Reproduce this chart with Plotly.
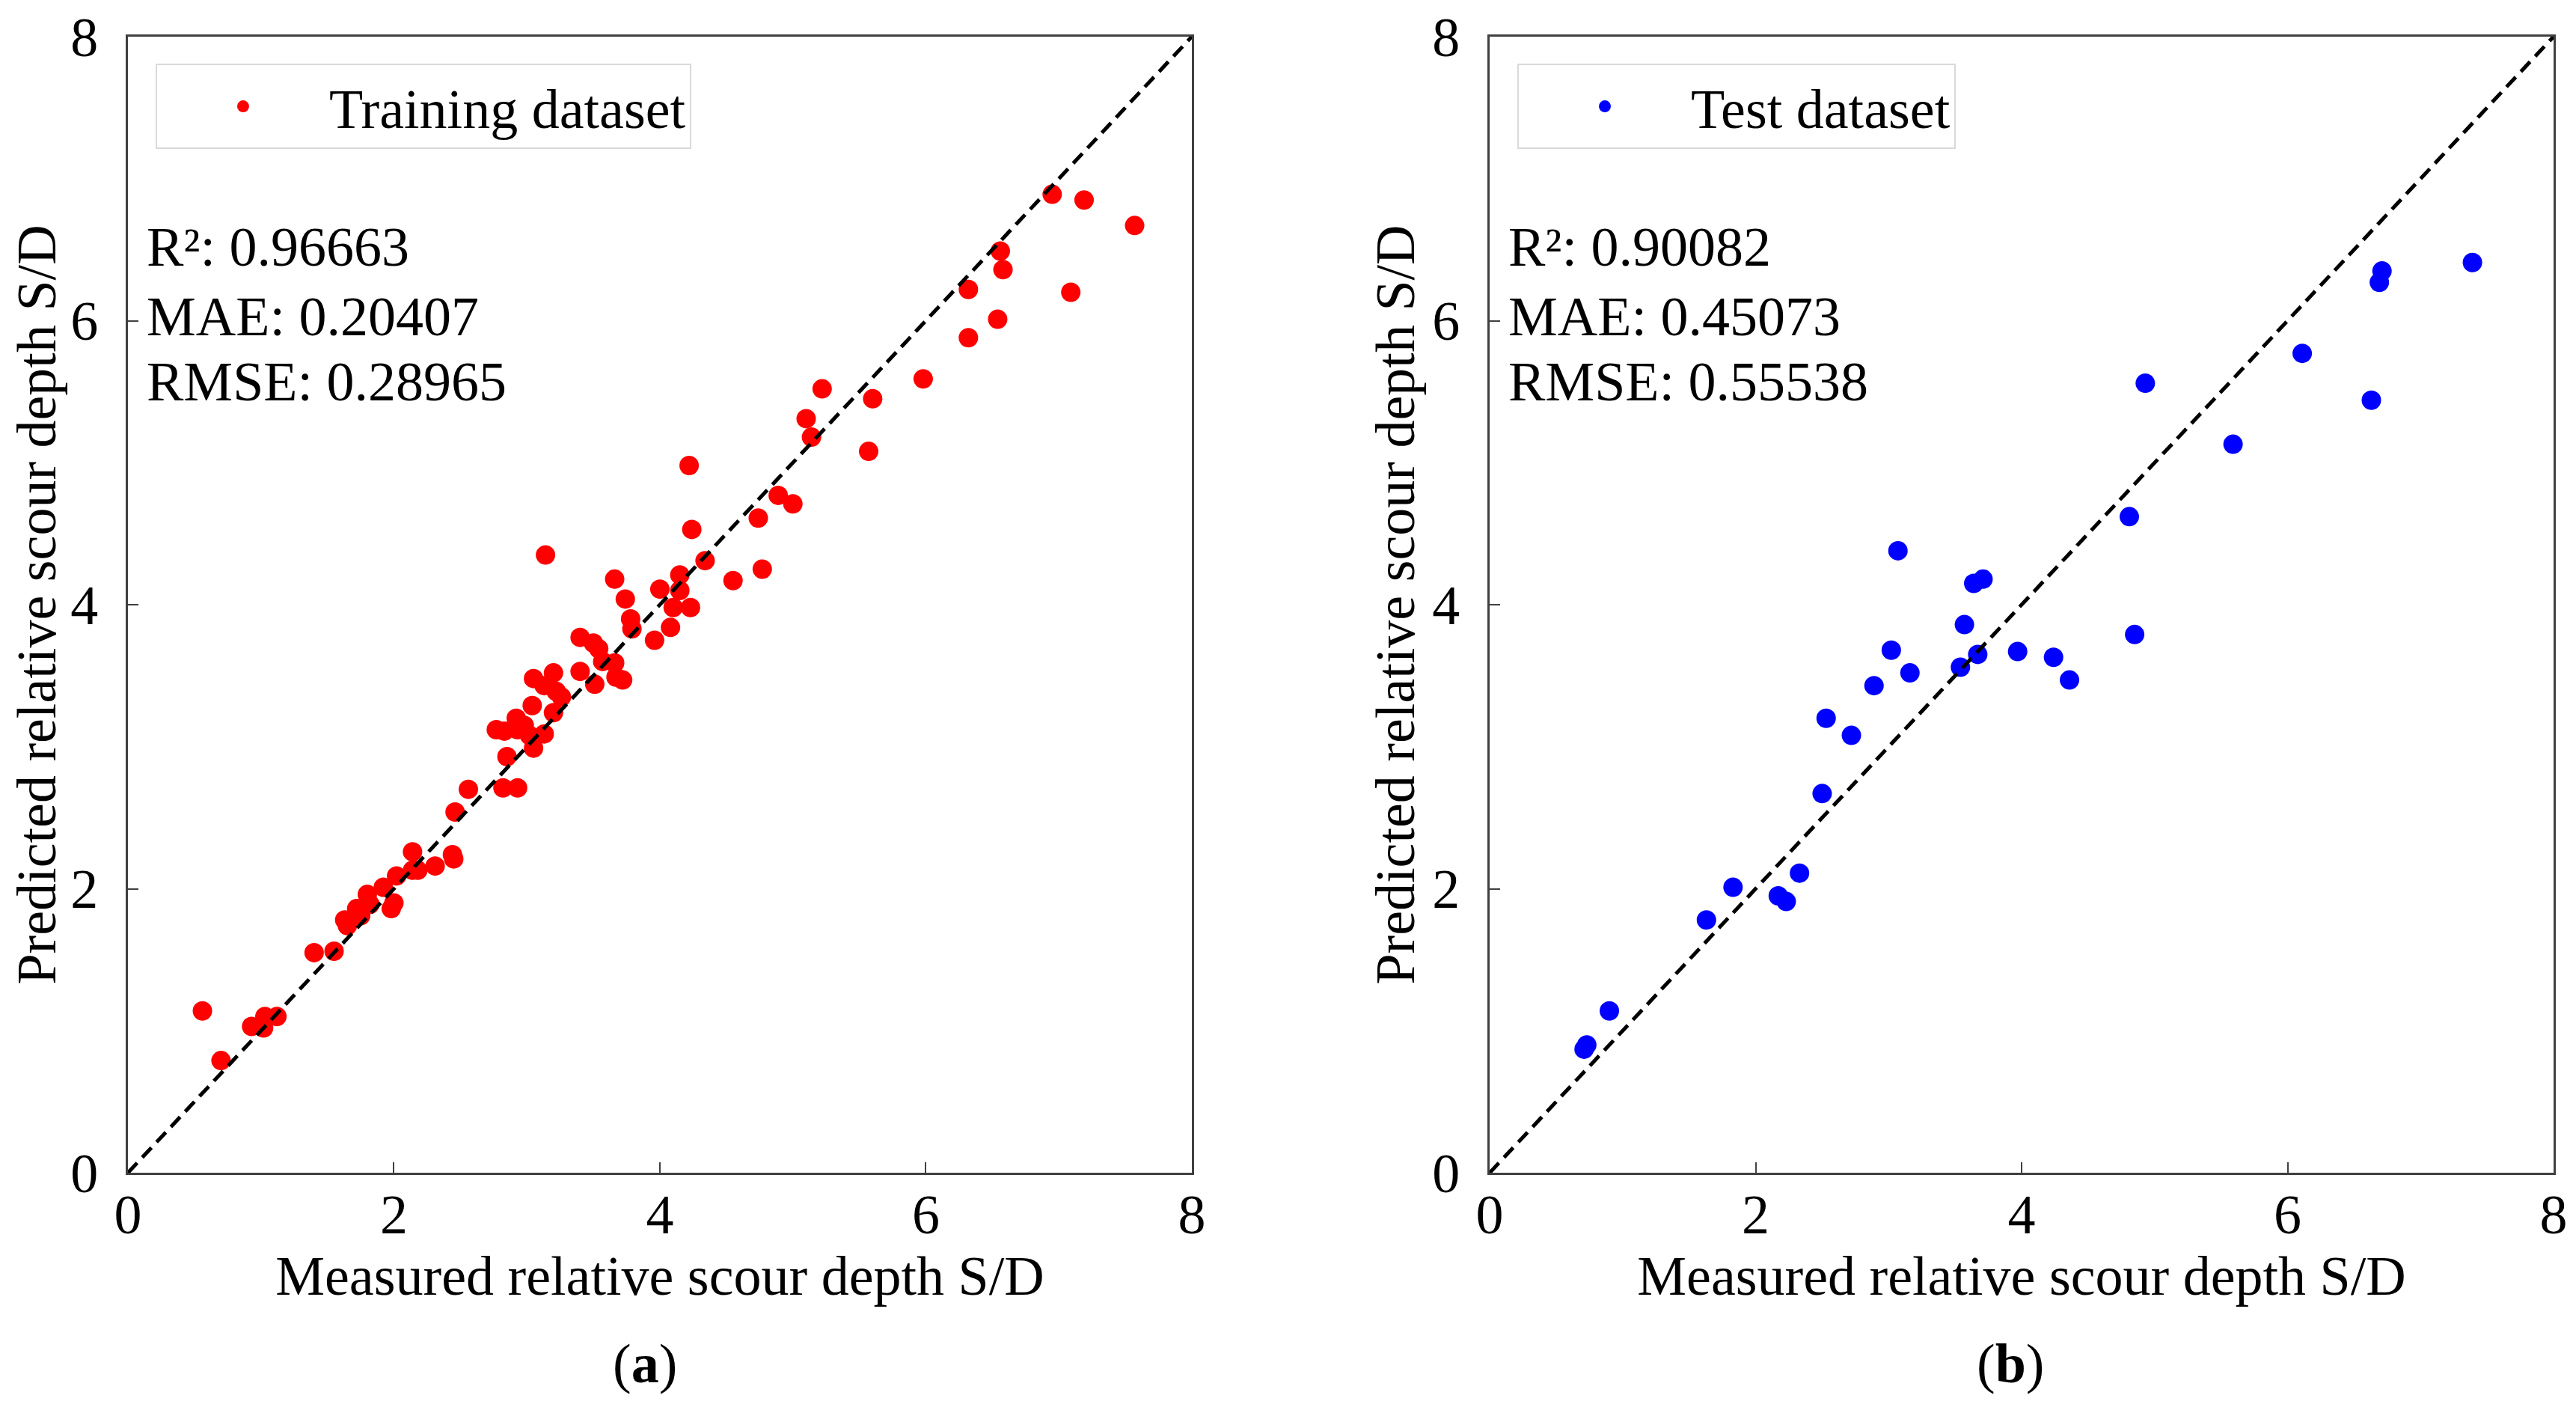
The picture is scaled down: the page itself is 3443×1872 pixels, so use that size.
import plotly.graph_objects as go
from plotly.subplots import make_subplots

# training set: measured vs predicted S/D
train_measured = [0.56, 0.70, 0.93, 1.02, 1.03, 1.12, 1.40, 1.55, 1.63, 1.65, 1.72, 1.75, 1.80, 1.82, 1.92,
                  1.98, 2.00, 2.02, 2.14, 2.14, 2.18, 2.31, 2.44, 2.45, 2.46, 2.56, 2.82, 2.93, 2.77, 2.83,
                  2.85, 2.92, 2.93, 2.98, 3.02, 3.04, 3.05, 3.05, 3.13, 3.14, 3.13, 3.20, 3.20, 3.22, 3.26,
                  3.40, 3.40, 3.50, 3.51, 3.54, 3.57, 3.66, 3.66, 3.67, 3.72, 3.74, 3.78, 3.79, 3.96, 4.00,
                  4.08, 4.10, 4.15, 4.15, 4.23, 4.24, 4.34, 4.55, 4.77, 4.74, 4.89, 5.00, 4.22, 5.10, 5.14,
                  5.57, 5.22, 5.60, 5.98, 6.32, 6.54, 6.32, 7.09, 6.58, 6.56, 6.95, 7.19, 7.57]
train_predicted = [1.14, 0.79, 1.03, 1.02, 1.10, 1.10, 1.55, 1.56, 1.78, 1.74, 1.86, 1.81, 1.96, 1.89, 2.01,
                   1.86, 1.90, 2.09, 2.26, 2.13, 2.13, 2.16, 2.24, 2.21, 2.54, 2.70, 2.71, 2.71, 3.12, 3.11,
                   2.93, 3.20, 3.12, 3.15, 3.08, 3.29, 3.48, 2.99, 3.09, 4.35, 3.43, 3.52, 3.24, 3.39, 3.35,
                   3.77, 3.53, 3.73, 3.44, 3.69, 3.60, 3.59, 4.18, 3.49, 3.47, 4.04, 3.90, 3.83, 3.75, 4.11,
                   3.84, 3.98, 4.10, 4.21, 3.98, 4.53, 4.31, 4.17, 4.25, 4.61, 4.77, 4.71, 4.98, 5.31, 5.18,
                   5.08, 5.52, 5.45, 5.59, 5.88, 6.01, 6.22, 6.20, 6.36, 6.49, 6.89, 6.85, 6.67]

# test set
test_measured = [0.71, 0.73, 0.90, 1.63, 1.83, 2.17, 2.23, 2.33, 2.50, 2.53, 2.72, 2.89, 3.02, 3.07, 3.16,
                 3.54, 3.57, 3.64, 3.71, 3.67, 3.97, 4.24, 4.36, 4.85, 4.81, 4.93, 5.59, 6.11, 6.63, 6.69,
                 6.71, 7.39]
test_predicted = [0.87, 0.90, 1.14, 1.78, 2.01, 1.95, 1.91, 2.11, 2.67, 3.20, 3.08, 3.43, 3.68, 4.38, 3.52,
                  3.56, 3.86, 4.15, 4.18, 3.65, 3.67, 3.63, 3.47, 3.79, 4.62, 5.56, 5.13, 5.77, 5.44, 6.27,
                  6.35, 6.41]

train_metrics = ["R²: 0.96663", "MAE: 0.20407", "RMSE: 0.28965"]
test_metrics = ["R²: 0.90082", "MAE: 0.45073", "RMSE: 0.55538"]

axis_ticks = [0, 2, 4, 6, 8]
diag = [0, 8]

FONT = "Liberation Serif, Times New Roman, serif"
FSIZE = 74
AXIS_COLOR = "#404040"

fig = make_subplots(rows=1, cols=2, horizontal_spacing=0.1228)


def add_panel(col, xs, ys, name, color, metrics, legend_id):
    fig.add_trace(
        go.Scatter(
            x=xs,
            y=ys,
            mode="markers",
            name=name,
            marker=dict(color=color, size=26, line=dict(width=0)),
            legend=legend_id,
        ),
        row=1,
        col=col,
    )
    fig.add_trace(
        go.Scatter(
            x=diag,
            y=diag,
            mode="lines",
            line=dict(color="black", width=5, dash="18px,10px"),
            showlegend=False,
            hoverinfo="skip",
        ),
        row=1,
        col=col,
    )
    xref = "x" if col == 1 else "x2"
    yref = "y" if col == 1 else "y2"
    for text, yv in zip(metrics, [6.52, 6.03, 5.57]):
        fig.add_annotation(
            x=0.13,
            y=yv,
            xref=xref,
            yref=yref,
            text=text,
            showarrow=False,
            xanchor="left",
            yanchor="middle",
            font=dict(size=FSIZE, color="black", family=FONT),
        )


add_panel(1, train_measured, train_predicted, "Training dataset", "red", train_metrics, "legend")
add_panel(2, test_measured, test_predicted, "Test dataset", "blue", test_metrics, "legend2")

axis_style = dict(
    range=[0, 8],
    tickvals=axis_ticks,
    ticks="inside",
    ticklen=14,
    tickwidth=2,
    tickcolor=AXIS_COLOR,
    showline=True,
    linecolor=AXIS_COLOR,
    linewidth=3,
    mirror=True,
    showgrid=False,
    zeroline=False,
    automargin=False,
    ticklabeloverflow="allow",
    tickfont=dict(size=FSIZE, color="black", family=FONT),
)
for col in (1, 2):
    fig.update_xaxes(
        title=dict(text="Measured relative scour depth S/D", font=dict(size=FSIZE, color="black", family=FONT), standoff=2),
        ticklabelstandoff=-11,
        row=1,
        col=col,
        **axis_style,
    )
    fig.update_yaxes(
        title=dict(text="Predicted relative scour depth S/D", font=dict(size=FSIZE, color="black", family=FONT), standoff=0),
        ticklabelstandoff=22,
        row=1,
        col=col,
        **axis_style,
    )

legend_style = dict(
    y=0.976,
    xanchor="left",
    yanchor="top",
    bgcolor="white",
    bordercolor="#d9d9d9",
    borderwidth=2,
    font=dict(size=FSIZE, color="black", family=FONT),
    itemwidth=220,
)
fig.update_layout(
    legend=dict(x=0.0114, **legend_style),
    legend2=dict(x=0.5728, **legend_style),
)

for label, xpos in [("(<b>a</b>)", 0.213), ("(<b>b</b>)", 0.776)]:
    fig.add_annotation(
        x=xpos,
        y=-0.168,
        xref="paper",
        yref="paper",
        text=label,
        showarrow=False,
        xanchor="center",
        yanchor="middle",
        font=dict(size=FSIZE, color="black", family=FONT),
    )

fig.update_layout(
    width=3443,
    height=1872,
    margin=dict(l=163, r=38, t=41, b=313),
    paper_bgcolor="white",
    plot_bgcolor="white",
    font=dict(family=FONT, color="black"),
)
fig.write_html("out.html")
